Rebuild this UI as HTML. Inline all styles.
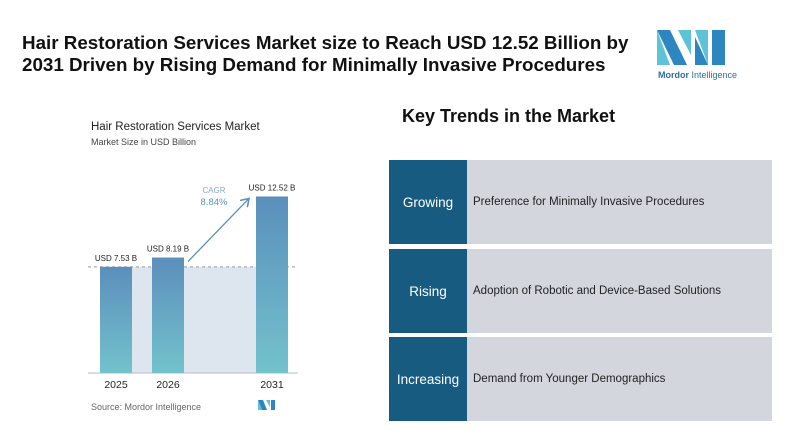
<!DOCTYPE html>
<html><head><meta charset="utf-8"><style>
body{margin:0;width:800px;height:447px;background:#fff;font-family:"Liberation Sans",sans-serif;position:relative;overflow:hidden}
.abs{position:absolute}
.row{position:absolute;left:389px;width:383px;height:84px}
.row .k{position:absolute;left:0;top:0;width:78px;height:100%;background:#175b80;color:#fff;font-size:13.5px;display:flex;align-items:center;justify-content:center}
.row .v{position:absolute;left:78px;top:0;right:0;height:100%;background:#d3d6dc;color:#222;font-size:11.5px;display:flex;align-items:center;padding-left:6px}
</style></head><body>
<div class="abs" style="left:22px;top:32px;font-size:18.8px;font-weight:bold;line-height:22px;color:#111">Hair Restoration Services Market size to Reach USD 12.52 Billion by<br>2031 Driven by Rising Demand for Minimally Invasive Procedures</div>
<svg class="abs" style="left:650px;top:25px" width="90" height="60">
<polygon points="7,5 20,5 37,40 24,40" fill="#2e86c1"/><polygon points="7,5 7,40 20,40" fill="#5dc3d6"/>
<polygon points="28,5 41,5 41,30" fill="#5dc3d6"/><polygon points="45,5 58,5 58,40" fill="#5dc3d6"/><polygon points="45,12 58,40 45,40" fill="#2e86c1"/><polygon points="62,5 75,5 75,40 62,40" fill="#2e86c1"/>
<text x="8" y="53" font-size="9" fill="#2e6fa0" font-family="Liberation Sans"><tspan font-weight="bold">Mordor</tspan> Intelligence</text></svg>
<div class="abs" style="left:91px;top:121px;font-size:11.5px;color:#222">Hair Restoration Services Market</div>
<div class="abs" style="left:91px;top:137px;font-size:9px;color:#444">Market Size in USD Billion</div>
<svg id="chart" class="abs" style="left:0;top:0" width="380" height="447">
<defs><linearGradient id="g" x1="0" y1="0" x2="0" y2="1"><stop offset="0" stop-color="#5b8fbc"/><stop offset="1" stop-color="#73c2cc"/></linearGradient>
<marker id="ar" markerWidth="8" markerHeight="8" refX="6" refY="4" orient="auto"><path d="M0,0 L6,4 L0,8" fill="none" stroke="#5b8fbc" stroke-width="1.2"/></marker></defs>
</svg>
<div class="abs" style="left:91px;top:402px;font-size:9px;color:#666">Source: Mordor Intelligence</div>
<div class="abs" style="left:402px;top:106px;font-size:18px;font-weight:bold;color:#111">Key Trends in the Market</div>
<div class="row" style="top:160px"><div class="k">Growing</div><div class="v">Preference for Minimally Invasive Procedures</div></div>
<div class="row" style="top:249px"><div class="k">Rising</div><div class="v">Adoption of Robotic and Device-Based Solutions</div></div>
<div class="row" style="top:337px"><div class="k">Increasing</div><div class="v">Demand from Younger Demographics</div></div>
<script>
const categories=["2025","2026","2031"];
const values=[7.53,8.19,12.52];
const labels=["USD 7.53 B","USD 8.19 B","USD 12.52 B"];
const cagr="8.84%";
const svg=document.getElementById('chart');const NS='http://www.w3.org/2000/svg';
const base=373,k=14.1;const xs=[100,152,256],bw=32;
const y=v=>base-v*k;const x=i=>xs[i];
function mk(t,a){const e=document.createElementNS(NS,t);for(const n in a)e.setAttribute(n,a[n]);svg.appendChild(e);return e;}
const sh=mk('rect',{x:x(0),y:y(values[0]),width:x(2)+bw-x(0),height:base-y(values[0]),fill:'#dde6ef'});


const dl=mk('line',{x1:88,x2:298,y1:y(values[0]),y2:y(values[0]),stroke:'#999','stroke-dasharray':'3,3'});


const ax=mk('line',{x1:88,x2:298,y1:base,y2:base,stroke:'#bbb'});


values.forEach((v,i)=>{
const r=mk('rect',{x:x(i),y:y(v),width:bw,height:base-y(v),fill:'url(#g)'});


const t=mk('text',{x:x(i)+bw/2,y:y(v)-6,'text-anchor':'middle','font-size':'8','fill':'#222'});t.textContent=labels[i];


const c=mk('text',{x:x(i)+bw/2,y:base+15,'text-anchor':'middle','font-size':'10.5','fill':'#222'});c.textContent=categories[i];


});
const a=mk('line',{x1:x(1)+bw+4,y1:y(values[1])+4,x2:x(2)-7,y2:y(values[2])+2,stroke:'#5b8fbc','stroke-width':'1.3','marker-end':'url(#ar)'});


const c1=mk('text',{x:214,y:193,'text-anchor':'middle','font-size':'8','fill':'#8aa9c4'});c1.textContent='CAGR';


const c2=mk('text',{x:214,y:205,'text-anchor':'middle','font-size':'9.5','fill':'#5b8fbc'});c2.textContent=cagr;


const lg=mk('g',{});lg.innerHTML='<polygon points="258,400 263,400 267,410 262,410" fill="#2e86c1"/><polygon points="258,400 258,410 262,410" fill="#5dc3d6"/><polygon points="266,400 270,400 270,407" fill="#5dc3d6"/><polygon points="271,400 275,400 275,410 271,410" fill="#2e86c1"/>';


</script>
</body></html>
